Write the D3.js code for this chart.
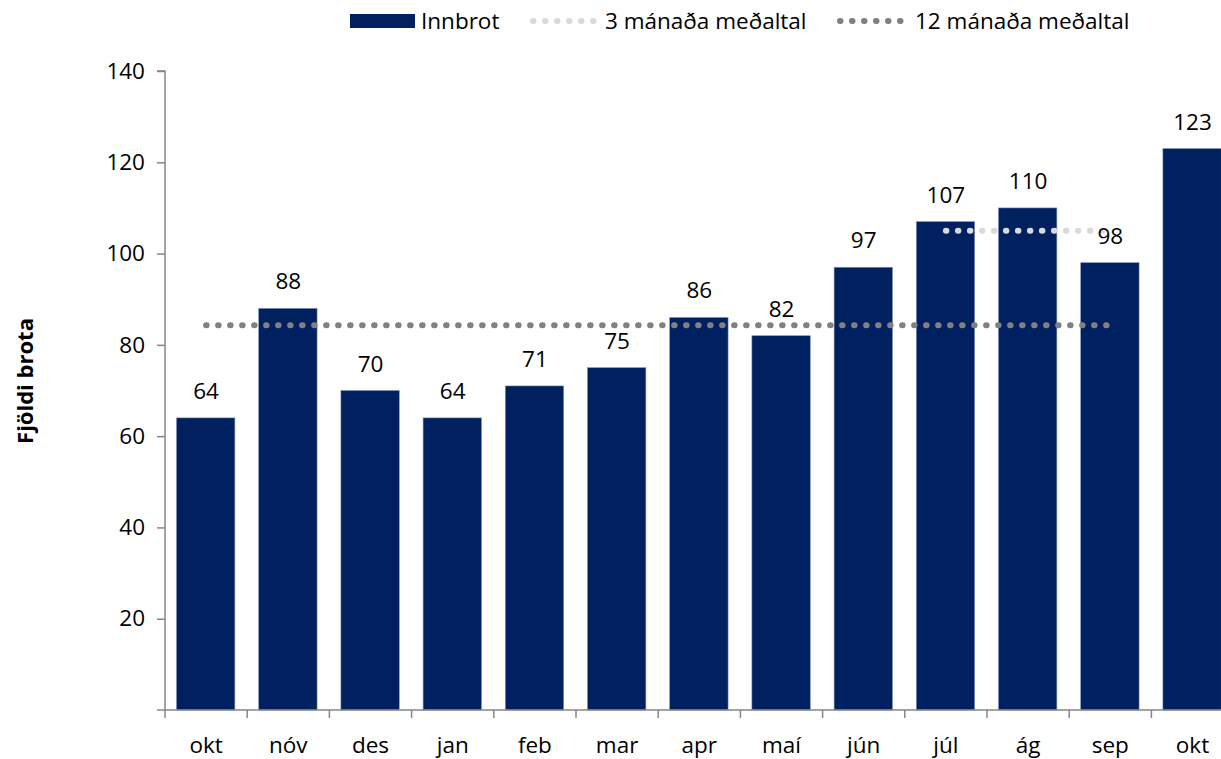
<!DOCTYPE html>
<html>
<head>
<meta charset="utf-8">
<script src="https://cdn.jsdelivr.net/npm/d3@7"></script>
<style>
  html, body { margin: 0; padding: 0; background: #fff; }
  svg { display: block; }
  text { font-family: "Open Sans", Lato, sans-serif; fill: #000; }
</style>
</head>
<body>
<svg id="chart" width="1221" height="759"></svg>
<script>
// ---- data ----
const categories = ["okt", "nóv", "des", "jan", "feb", "mar", "apr", "maí", "jún", "júl", "ág", "sep", "okt"];
const innbrot = [64, 88, 70, 64, 71, 75, 86, 82, 97, 107, 110, 98, 123];
const avg3 = [null, null, null, null, null, null, null, null, null, 105, 105, 105, null];
const avg12 = [84.3, 84.3, 84.3, 84.3, 84.3, 84.3, 84.3, 84.3, 84.3, 84.3, 84.3, 84.3, null];
const yTicks = [20, 40, 60, 80, 100, 120, 140];
const seriesNames = ["Innbrot", "3 mánaða meðaltal", "12 mánaða meðaltal"];
const yTitle = "Fjöldi brota";

// ---- styles ----
const barColor = "#002060";
const avg3Color = "#D9D9D9";
const avg12Color = "#808080";
const axisColor = "#868686";
const fontSize = 22.5;

const svg = d3.select("#chart");
const mLeft = 165, mTop = 71, mBottom = 710, step = 82.2;

const x = d3.scaleBand().domain(d3.range(categories.length))
  .range([mLeft, mLeft + step * categories.length]).padding(0);
const bw = x.bandwidth();
const y = d3.scaleLinear().domain([0, 140]).range([mBottom, mTop]);

// bars
svg.append("g").selectAll("rect").data(innbrot).join("rect")
  .attr("x", (d, i) => x(i) + bw * 0.14)
  .attr("width", bw * 0.71)
  .attr("y", d => y(d))
  .attr("height", d => y(0) - y(d))
  .attr("fill", barColor)
  .attr("stroke", "#8090b8")
  .attr("stroke-width", 0.6);

// average lines
const line = d3.line()
  .defined(d => d != null)
  .x((d, i) => x(i) + bw / 2)
  .y(d => y(d));

function dotted(sel, color) {
  return sel.attr("fill", "none").attr("stroke", color)
    .attr("stroke-width", 6).attr("stroke-linecap", "round")
    .attr("stroke-dasharray", "0.5 11.5");
}
dotted(svg.append("path").datum(avg12).attr("d", line), avg12Color);
dotted(svg.append("path").datum(avg3).attr("d", line), avg3Color);

// y axis
const yAxis = d3.axisLeft(y).tickValues(yTicks).tickSize(8).tickPadding(12);
const gy = svg.append("g").attr("transform", `translate(${mLeft},0)`).call(yAxis);
gy.select(".domain").attr("stroke", axisColor).attr("stroke-width", 1.5)
  .attr("d", `M-8,${y(140)}H0V${y(0)}`);
gy.selectAll(".tick line").attr("stroke", axisColor).attr("stroke-width", 1.5);
gy.selectAll(".tick text").attr("font-size", fontSize).attr("font-family", '"Open Sans", sans-serif').attr("fill", "#000");

// x axis
const gx = svg.append("g").attr("transform", `translate(0,${mBottom})`);
gx.append("path").attr("d", `M${mLeft - 8},0H${1221}`).attr("stroke", axisColor).attr("stroke-width", 1.5);
const tickPos = d3.range(categories.length + 1).map(i => mLeft + i * bw);
gx.selectAll("line.t").data(tickPos).join("line").attr("class", "t")
  .attr("x1", d => d).attr("x2", d => d).attr("y1", 0).attr("y2", 8)
  .attr("stroke", axisColor).attr("stroke-width", 1.5);
gx.selectAll("text").data(categories).join("text")
  .attr("x", (d, i) => x(i) + bw / 2).attr("y", 43)
  .attr("text-anchor", "middle").attr("font-size", fontSize).text(d => d);

// value labels
svg.append("g").selectAll("text").data(innbrot).join("text")
  .attr("x", (d, i) => x(i) + bw / 2)
  .attr("y", d => y(d) - 19)
  .attr("text-anchor", "middle").attr("font-size", fontSize).text(d => d);

// y title
svg.append("text")
  .attr("transform", `translate(33,381) rotate(-90)`)
  .attr("text-anchor", "middle").attr("font-size", 22).attr("font-weight", "bold")
  .text(yTitle);

// legend
const lg = svg.append("g");
lg.append("rect").attr("x", 350).attr("y", 14).attr("width", 65).attr("height", 14).attr("fill", barColor);
lg.append("text").attr("x", 421).attr("y", 29).attr("font-size", fontSize).text(seriesNames[0]);
dotted(lg.append("path").attr("d", "M533,21H596"), avg3Color);
lg.append("text").attr("x", 605).attr("y", 29).attr("font-size", fontSize).text(seriesNames[1]);
dotted(lg.append("path").attr("d", "M840,21H903"), avg12Color);
lg.append("text").attr("x", 915).attr("y", 29).attr("font-size", fontSize).text(seriesNames[2]);
</script>
</body>
</html>
